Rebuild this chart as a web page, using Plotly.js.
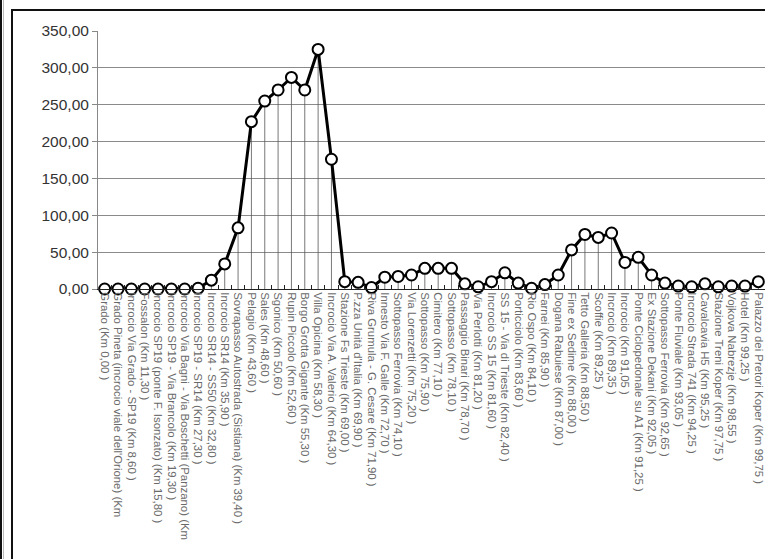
<!DOCTYPE html>
<html>
<head>
<meta charset="utf-8">
<script src="https://cdn.plot.ly/plotly-3.0.1.min.js"></script>
<style>
html,body{margin:0;padding:0;background:#fff;width:765px;height:559px;overflow:hidden;}
#stripe{position:absolute;left:0;top:0;width:2px;height:559px;background:#111;}
#stripe2{position:absolute;left:3px;top:0;width:1px;height:559px;background:#bbb;}
#frame{position:absolute;left:11px;top:9px;width:800px;height:600px;border-left:2px solid #111;border-top:2px solid #111;}
#chart{position:absolute;left:0;top:0;width:765px;height:559px;}
</style>
</head>
<body>
<div id="stripe"></div><div id="stripe2"></div>
<div id="frame"></div>
<div id="chart"></div>
<script>
const categories = [
"Grado (Km 0,00 )",
"Grado Pineta (incrocio viale dell'Orione) (Km",
"Incrocio Via Grado - SP19 (Km 8,60 )",
"Fossalon (Km 11,30 )",
"Incrocio SP19 (ponte F. Isonzato) (Km 15,80 )",
"Incrocio SP19 - Via Brancolo (Km 19,30 )",
"Incrocio Via Bagni - Via Boschetti (Panzano) (Km",
"Incrocio SP19 - SR14 (Km 27,30 )",
"Incrocio SR14 - SS50 (Km 32,80 )",
"Incrocio SR14 (Km 35,90 )",
"Sovrapasso Autostrada (Sistiana) (Km 39,40 )",
"Pelagio (Km 43,60 )",
"Sales (Km 48,60 )",
"Sgonico (Km 50,60 )",
"Rupin Piccolo (Km 52,60 )",
"Borgo Grotta Gigante (Km 55,30 )",
"Villa Opicina (Km 58,30 )",
"Incrocio Via A. Valerio (Km 64,30 )",
"Stazione Fs Trieste (Km 69,00 )",
"P.zza Unità d'Italia (Km 69,90 )",
"Riva Grumula - G. Cesare (Km 71,90 )",
"Innesto Via F. Galle (Km 72,70 )",
"Sottopasso Ferrovia (Km 74,10 )",
"Via Lorenzetti (Km 75,20 )",
"Sottopasso (Km 75,90 )",
"Cimitero (Km 77,10 )",
"Sottopasso (Km 78,10 )",
"Passaggio Binari (Km 78,70 )",
"Via Perlotti (Km 81,20 )",
"Incrocio SS 15 (Km 81,60 )",
"SS 15 - Via di Trieste (Km 82,40 )",
"Porticciolo (Km 83,60 )",
"Rio Ospo (Km 84,10 )",
"Farnei (Km 85,90 )",
"Dogana Rabuiese (Km 87,00 )",
"Fine ex Sedime (Km 88,00 )",
"Tetto Galleria (Km 88,50 )",
"Scoffie (Km 89,25 )",
"Incrocio (Km 89,35 )",
"Incrocio (Km 91,05 )",
"Ponte Ciclopedonale su A1 (Km 91,25 )",
"Ex Stazione Dekani (Km 92,05 )",
"Sottopasso Ferrovia (Km 92,65 )",
"Ponte Fluviale (Km 93,05 )",
"Incrocio Strada 741 (Km 94,25 )",
"Cavalcavia H5 (Km 95,25 )",
"Stazione Treni Koper (Km 97,75 )",
"Vojkova Nabrezje (Km 98,55 )",
"Hotel (Km 99,25 )",
"Palazzo dei Pretori Koper (Km 99,75 )"
];
const values = [
0, 0, 0, 0, 0, 0, 0, 1, 12, 34,
83, 227, 255, 270, 287, 270, 325, 176, 10, 9,
2, 16, 17, 19, 28, 28, 28, 7, 3, 10,
22, 8, 1, 6, 19, 53, 74, 70, 76, 36,
43, 19, 8, 4, 3, 7, 3, 4, 4, 10
];
const yTicks = [0, 50, 100, 150, 200, 250, 300, 350];

const zeros = values.map(() => 0);

const trace = {
  type: 'scatter',
  mode: 'lines+markers',
  x: categories,
  y: values,
  cliponaxis: false,
  line: {color: '#000', width: 3},
  marker: {symbol: 'circle', size: 11, color: '#fff', line: {color: '#000', width: 2}},
  error_y: {type: 'data', symmetric: false, array: zeros, arrayminus: values, color: '#555', thickness: 0.8, width: 0},
  hoverinfo: 'x+y'
};

const layout = {
  width: 765, height: 559,
  margin: {l: 98, r: 0, t: 31, b: 270},
  paper_bgcolor: 'rgba(0,0,0,0)',
  plot_bgcolor: 'rgba(0,0,0,0)',
  separators: ',.',
  showlegend: false,
  font: {family: 'Arial, Liberation Sans, sans-serif', color: '#333'},
  xaxis: {
    type: 'category',
    range: [-0.5, categories.length - 0.5],
    tickmode: 'linear', tick0: 0, dtick: 1,
    tickangle: 90,
    tickfont: {size: 11.4, color: '#6a6a6a'},
    showgrid: false,
    showline: true, linecolor: '#222', linewidth: 1,
    ticks: 'inside', ticklen: 4, tickcolor: '#222', tickson: 'boundaries',
    automargin: false,
    fixedrange: true
  },
  yaxis: {
    range: [0, 350],
    tickvals: yTicks,
    tickformat: '.2f',
    tickfont: {size: 15.5, color: '#333'},
    showgrid: true, gridcolor: '#8a8a8a', gridwidth: 1,
    zeroline: false,
    showline: true, linecolor: '#888', linewidth: 1,
    ticks: 'outside', ticklen: 5, tickcolor: '#888',
    automargin: false,
    fixedrange: true
  }
};

Plotly.newPlot('chart', [trace], layout, {displayModeBar: false, staticPlot: true});
</script>
</body>
</html>
